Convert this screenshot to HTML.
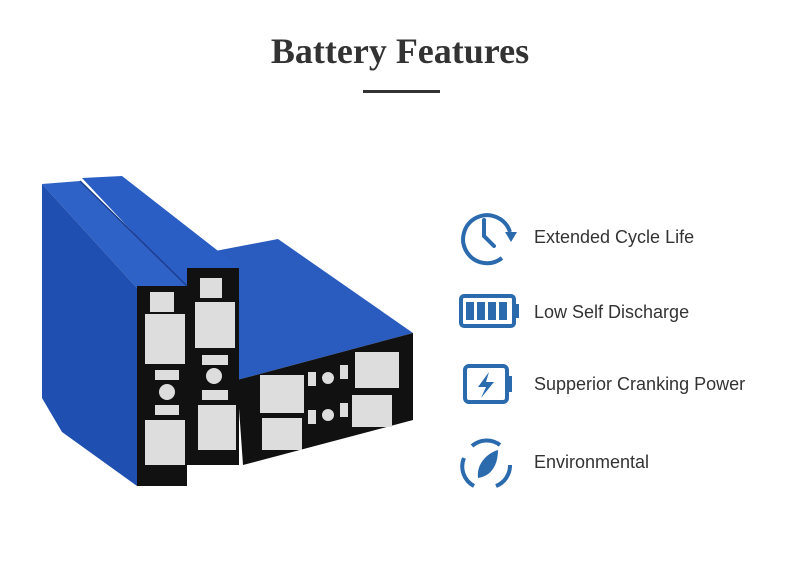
<!DOCTYPE html>
<html><head><meta charset="utf-8"><style>
html,body{margin:0;padding:0;background:#fff;}
body{width:800px;height:561px;position:relative;overflow:hidden;font-family:"Liberation Sans",sans-serif;}
h1{position:absolute;top:30px;left:0;width:800px;text-align:center;margin:0;font-family:"Liberation Serif",serif;font-weight:bold;font-size:36px;color:#333;}
.bar{position:absolute;left:363px;top:90px;width:77px;height:3px;background:#333;}
.t{position:absolute;left:534px;font-size:18px;color:#333;}
svg{position:absolute;left:0;top:0;}
</style></head><body>
<h1>Battery Features</h1>
<div class="bar"></div>
<svg width="800" height="561" viewBox="0 0 800 561">
<!-- lower box -->
<polygon points="210,252 278,239 413,333 237,380" fill="#2a5bbf"/>
<polygon points="237,380 413,333 413,420 243,465" fill="#111"/>
<g fill="#ddd">
<rect x="260" y="375" width="44" height="38"/><rect x="355" y="352" width="44" height="36"/>
<rect x="262" y="418" width="40" height="32"/><rect x="352" y="395" width="40" height="32"/>
<rect x="308" y="372" width="8" height="14"/><rect x="340" y="365" width="8" height="14"/>
<rect x="308" y="410" width="8" height="14"/><rect x="340" y="403" width="8" height="14"/>
<circle cx="328" cy="378" r="6"/><circle cx="328" cy="415" r="6"/>
</g>
<!-- battery 2 (behind) -->
<polygon points="82,178 122,176 240,268 187,290" fill="#2b5ec4"/>
<rect x="187" y="268" width="52" height="197" fill="#111"/>
<g fill="#ddd">
<rect x="200" y="278" width="22" height="20"/><rect x="195" y="302" width="40" height="46"/>
<rect x="202" y="355" width="26" height="10"/><circle cx="214" cy="376" r="8"/>
<rect x="202" y="390" width="26" height="10"/><rect x="198" y="405" width="38" height="45"/>
</g>
<!-- battery 1 (front) -->
<polygon points="42,184 80,181 187,286 137,288" fill="#2f62c6"/>
<line x1="80" y1="181" x2="187" y2="286" stroke="#1d3f8f" stroke-width="1.5"/>
<polygon points="42,184 137,288 137,486 62,432 42,398" fill="#1f4fb0"/>
<rect x="137" y="286" width="50" height="200" fill="#111"/>
<g fill="#ddd">
<rect x="150" y="292" width="24" height="20"/><rect x="145" y="314" width="40" height="50"/>
<rect x="155" y="370" width="24" height="10"/><circle cx="167" cy="392" r="8"/>
<rect x="155" y="405" width="24" height="10"/><rect x="145" y="420" width="40" height="45"/>
</g>
<!-- icons -->
<g fill="none" stroke="#2a6aad" stroke-width="4">
<path d="M510,232 A24,24 0 1 0 502,258"/>
<path d="M484,220 V236 L494,246" stroke-linecap="round"/>
<rect x="461" y="296" width="53" height="30" rx="3"/>
<rect x="465" y="366" width="42" height="36" rx="4"/>
<path d="M472,446 A22,22 0 0 1 500,445 M510,465 A22,22 0 0 1 496,486 M474,486 A22,22 0 0 1 464,458"/>
</g>
<polygon points="505,232 517,232 511,242" fill="#2a6aad"/>
<rect x="514" y="304" width="5" height="14" fill="#2a6aad"/>
<g fill="#2a6aad"><rect x="466" y="302" width="8" height="18"/><rect x="477" y="302" width="8" height="18"/><rect x="488" y="302" width="8" height="18"/><rect x="499" y="302" width="8" height="18"/></g>
<rect x="507" y="376" width="5" height="16" fill="#2a6aad"/>
<polygon points="489,372 478,387 486,387 481,398 494,382 486,382" fill="#2a6aad"/>
<path d="M478,478 C476,462 490,452 498,450 C498,464 492,476 478,478 Z" fill="#2a6aad"/>
</svg>
<div class="t" style="top:227px">Extended Cycle Life</div>
<div class="t" style="top:302px">Low Self Discharge</div>
<div class="t" style="top:374px">Supperior Cranking Power</div>
<div class="t" style="top:452px">Environmental</div>
</body></html>
